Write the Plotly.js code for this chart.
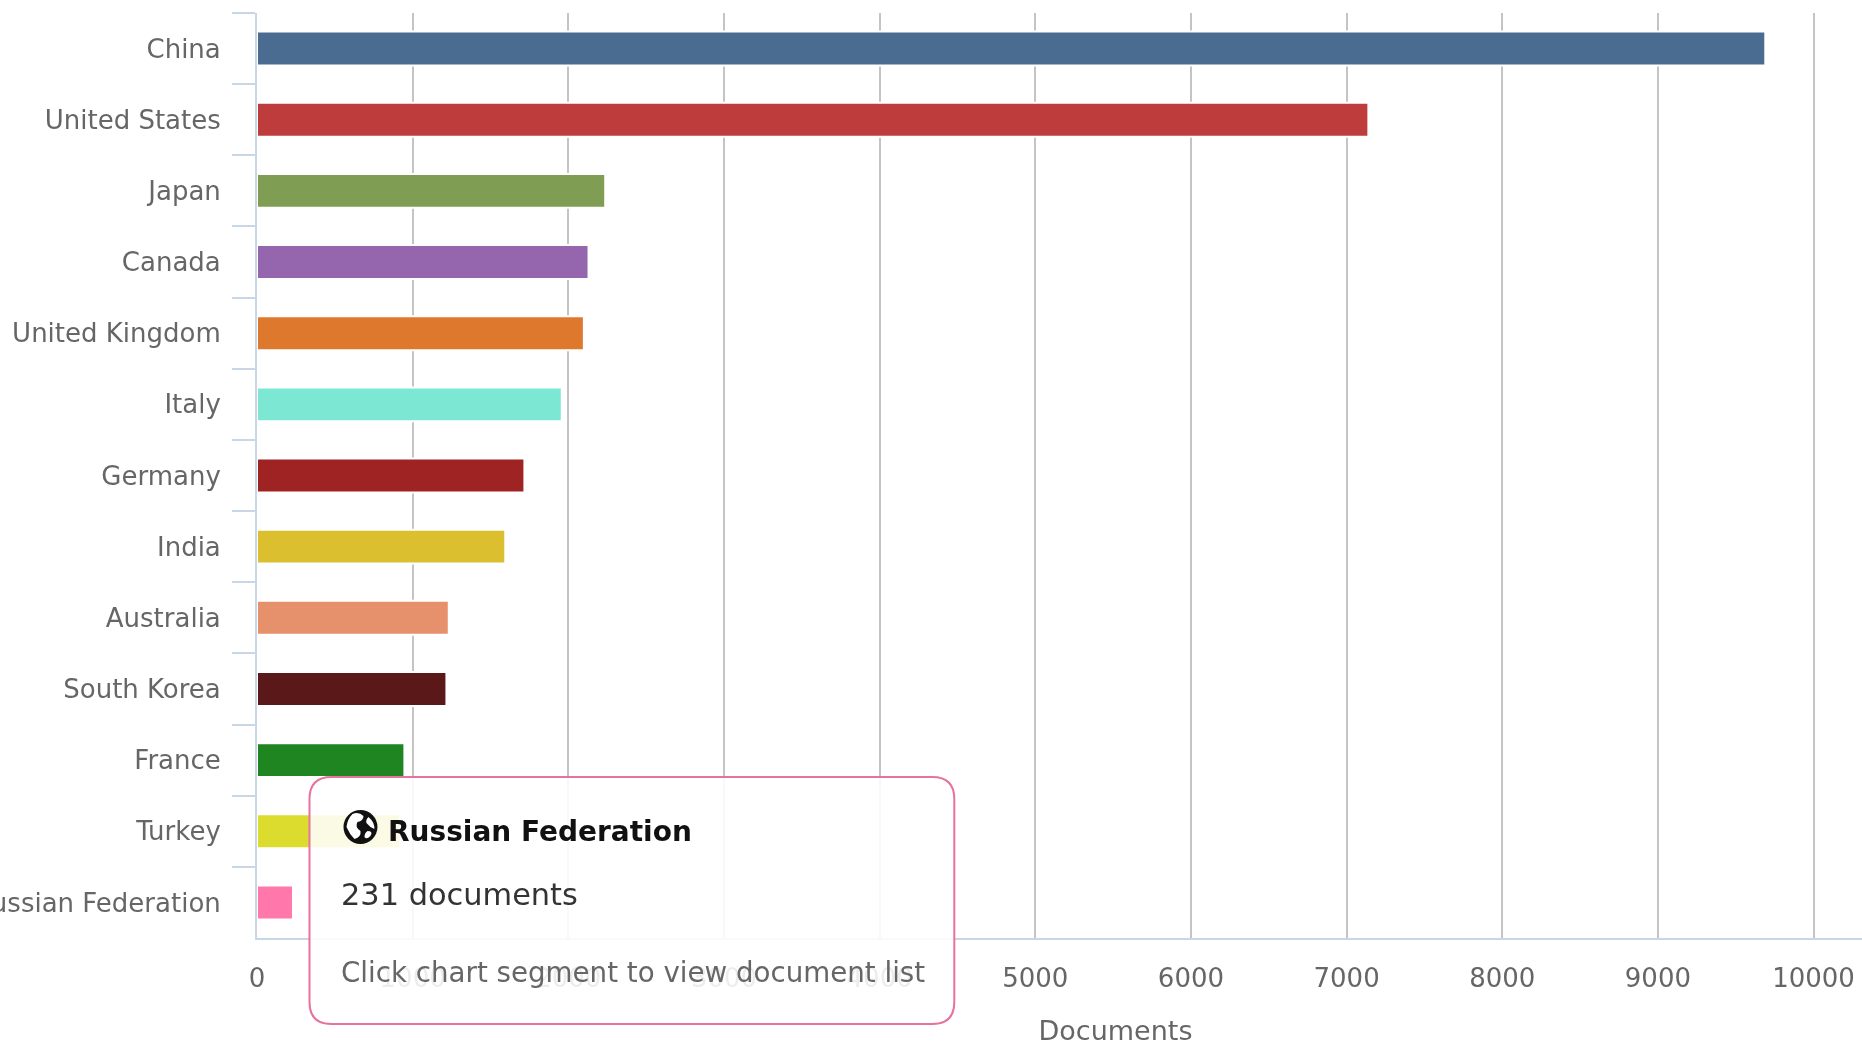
<!DOCTYPE html>
<html>
<head>
<meta charset="utf-8">
<script src="https://cdn.plot.ly/plotly-3.0.1.min.js"></script>
<style>
html,body{margin:0;padding:0;width:1862px;height:1042px;overflow:hidden;background:#fff}
#chart{width:1974px;height:1042px;filter:blur(0.5px)}
</style>
</head>
<body>
<div id="chart"></div>
<script>
const countries = ["China","United States","Japan","Canada","United Kingdom","Italy","Germany","India","Australia","South Korea","France","Turkey","Russian Federation"];
const documents = [9690,7140,2237,2130,2100,1958,1718,1595,1232,1217,947,919,231];
const barColors = ["#4a6c90","#bf3c3c","#7f9d53","#9565ad","#dd782d","#7ce8d3","#a02323","#dbbf2f","#e6906c","#5a1818","#1e8520","#dcdc2e","#ff77ab"];
const xTicks = [0,1000,2000,3000,4000,5000,6000,7000,8000,9000,10000];

const W = 1974, H = 1042, L = 256.5, T = 13, B = 104;
const font = "'DejaVu Sans', Verdana, sans-serif";
const px = x => (x - L) / (W - L);
const py = y => 1 - (y - T) / (H - T - B);
const P = (x, y) => px(x) + ' ' + py(y);

const box = {x0:309, x1:954, y0:777, y1:1024, r:22};
const boxPath = `M ${P(box.x0+box.r,box.y0)} L ${P(box.x1-box.r,box.y0)} `
  + `Q ${P(box.x1,box.y0)} ${P(box.x1,box.y0+box.r)} L ${P(box.x1,box.y1-box.r)} `
  + `Q ${P(box.x1,box.y1)} ${P(box.x1-box.r,box.y1)} L ${P(box.x0+box.r,box.y1)} `
  + `Q ${P(box.x0,box.y1)} ${P(box.x0,box.y1-box.r)} L ${P(box.x0,box.y0+box.r)} `
  + `Q ${P(box.x0,box.y0)} ${P(box.x0+box.r,box.y0)} Z`;

// globe icon, centred on (360, 827)
const gx = 342, gy = 809;
const G = (x, y) => P(gx + x, gy + y);
const land1 = `M ${G(10,5)} Q ${G(16,2)} ${G(21,7)} Q ${G(21,12)} ${G(15,13)} Q ${G(12,18)} ${G(18,22)} Q ${G(19,28)} ${G(12,30)} Q ${G(7,25)} ${G(4,18)} Q ${G(5,10)} ${G(10,5)} Z`;
const land2 = `M ${G(26,8)} Q ${G(32,13)} ${G(32,20)} Q ${G(27,18)} ${G(24,14)} Q ${G(23,11)} ${G(26,8)} Z`;
const land3 = `M ${G(25,22)} Q ${G(31,22)} ${G(28,27)} Q ${G(24,31)} ${G(22,28)} Q ${G(22,24)} ${G(25,22)} Z`;
const shp = (path, fill) => ({type:'path', xref:'paper', yref:'paper', layer:'above', path, fillcolor:fill, line:{width:0}});

function note(x, y, text, size, color){
  return {xref:'paper', yref:'paper', x:px(x), y:py(y), xanchor:'left', yanchor:'middle',
    showarrow:false, align:'left', text:text, font:{family:font, size:size, color:color}};
}

Plotly.newPlot('chart', [{
  type:'bar', orientation:'h', y:countries, x:documents, width:0.477,
  marker:{color:barColors, line:{color:'#ffffff', width:2}},
  hoverinfo:'none'
}], {
  width:W, height:H,
  margin:{l:L, r:0, t:T, b:B, pad:0},
  paper_bgcolor:'#fff', plot_bgcolor:'#fff',
  showlegend:false,
  xaxis:{
    range:[0,(W-L)/0.1557], tickmode:'array', tickvals:xTicks, ticktext:xTicks.map(String),
    showgrid:true, gridcolor:'#c4c4c4', gridwidth:2, zeroline:false,
    showline:true, linecolor:'#c8d6e6', linewidth:2, ticks:'', ticklabelstandoff:16,
    tickfont:{family:font, size:26, color:'#666'},
    title:{text:'Documents', font:{family:font, size:27, color:'#666'}}
  },
  yaxis:{
    type:'category', autorange:false, range:[12.5,-0.5], categoryorder:'array', categoryarray:countries,
    tickson:'boundaries', ticks:'outside', ticklen:23, tickwidth:2, tickcolor:'#c8d6e6',
    showgrid:false, zeroline:false, showline:true, linecolor:'#c8d6e6', linewidth:2,
    ticklabelstandoff:29,
    tickfont:{family:font, size:26, color:'#666'}
  },
  shapes:[
    {type:'path', xref:'paper', yref:'paper', layer:'above', path:boxPath,
      fillcolor:'rgba(255,255,255,0.88)', line:{color:'#e8729f', width:2}},
    {type:'circle', xref:'paper', yref:'paper', layer:'above',
      x0:px(gx+1), x1:px(gx+35), y0:py(gy+35), y1:py(gy+1), fillcolor:'#111', line:{width:0}},
    shp(land1,'#fff'), shp(land2,'#fff'), shp(land3,'#fff')
  ],
  annotations:[
    note(386, 831, '<b>Russian Federation</b>', 28, '#111'),
    note(339, 894, '231 documents', 30.4, '#333'),
    note(339, 972, 'Click chart segment to view document list', 27.7, '#666')
  ]
}, {displayModeBar:false, staticPlot:true}).then(gd => {
  const t = gd.querySelector('.xtitle');
  if (t) t.setAttribute('y', parseFloat(t.getAttribute('y')) + 10);
});
</script>
</body>
</html>
